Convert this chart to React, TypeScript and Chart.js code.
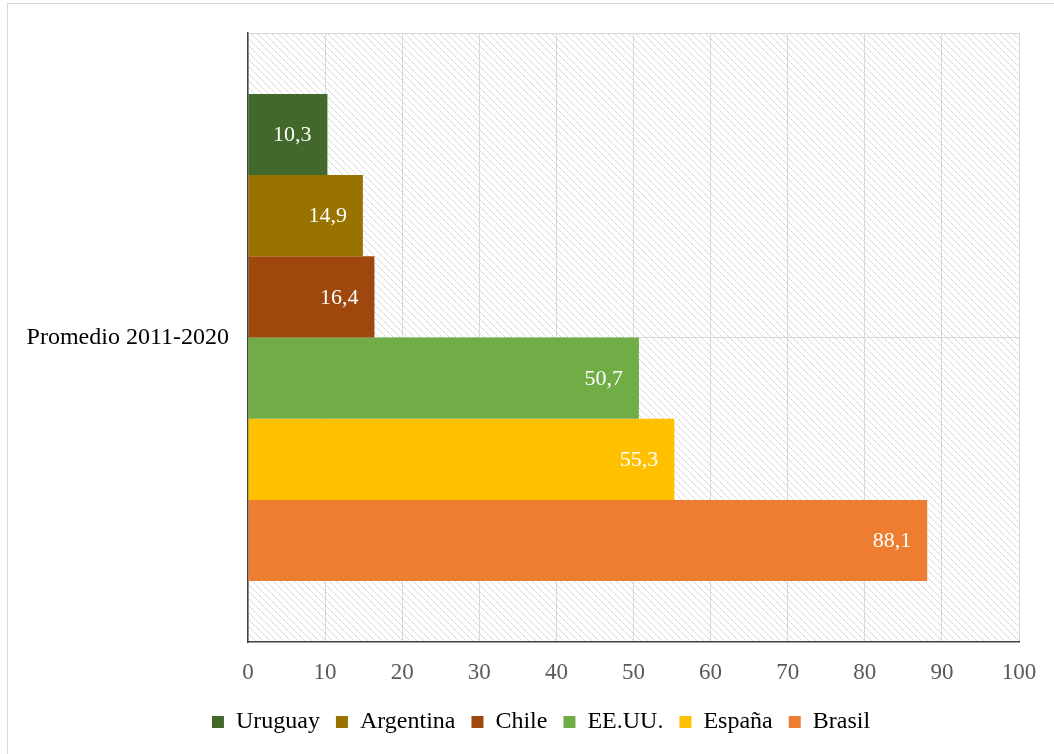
import React, { useEffect, useRef } from "react";
import { Chart, registerables } from "chart.js";

Chart.register(...registerables);

const categories = ["Promedio 2011-2020"];
const seriesNames = ["Uruguay", "Argentina", "Chile", "EE.UU.", "España", "Brasil"];
const seriesValues = [10.3, 14.9, 16.4, 50.7, 55.3, 88.1];
const seriesColors = ["#43682B", "#997300", "#9E480E", "#70AD47", "#FFC000", "#ED7D31"];
const xTicks = [0, 10, 20, 30, 40, 50, 60, 70, 80, 90, 100];

const FONT = "'Liberation Serif', 'Times New Roman', serif";

function makePattern(ctx: CanvasRenderingContext2D) {
  const tile = document.createElement("canvas");
  const n = 7;
  tile.width = n;
  tile.height = n;
  const t = tile.getContext("2d")!;
  t.fillStyle = "#ffffff";
  t.fillRect(0, 0, n, n);
  for (let i = 0; i < n; i++) {
    t.fillStyle = i % 2 === 0 ? "#d2d2d2" : "#e4e4e4";
    t.fillRect(i, i, 1, 1);
  }
  return ctx.createPattern(tile, "repeat");
}

const backgroundPlugin = {
  id: "hatchBg",
  beforeDraw(chart: any) {
    const { ctx, chartArea } = chart;
    if (!chartArea) return;
    ctx.save();
    const p = makePattern(ctx);
    if (p) {
      ctx.fillStyle = p;
      ctx.fillRect(chartArea.left, chartArea.top, chartArea.right - chartArea.left, chartArea.bottom - chartArea.top);
    }
    ctx.strokeStyle = "#d9d9d9";
    ctx.lineWidth = 1;
    ctx.beginPath();
    ctx.moveTo(chartArea.left, chartArea.top + 0.5);
    ctx.lineTo(chartArea.right, chartArea.top + 0.5);
    ctx.stroke();
    ctx.restore();
  },
};

const categoryLabelPlugin = {
  id: "catLabels",
  afterDraw(chart: any) {
    const { ctx, chartArea } = chart;
    const yScale = chart.scales.y;
    ctx.save();
    ctx.font = `24px ${FONT}`;
    ctx.fillStyle = "#000000";
    ctx.textAlign = "right";
    ctx.textBaseline = "middle";
    (chart.data.labels as string[]).forEach((lab, i) => {
      ctx.fillText(lab, chartArea.left - 19, yScale.getPixelForValue(i));
    });
    ctx.restore();
  },
};

const labelPlugin = {
  id: "barLabels",
  afterDatasetsDraw(chart: any) {
    const { ctx } = chart;
    ctx.save();
    ctx.font = `22px ${FONT}`;
    ctx.fillStyle = "#ffffff";
    ctx.textAlign = "right";
    ctx.textBaseline = "middle";
    chart.data.datasets.forEach((ds: any, i: number) => {
      const meta = chart.getDatasetMeta(i);
      meta.data.forEach((el: any, j: number) => {
        const v = ds.data[j] as number;
        ctx.fillText(v.toFixed(1).replace(".", ","), el.x - 16, el.y + 1);
      });
    });
    ctx.restore();
  },
};

export default function App() {
  const ref = useRef<HTMLCanvasElement | null>(null);

  useEffect(() => {
    if (!ref.current) return;
    const chart = new Chart(ref.current, {
      type: "bar",
      data: {
        labels: categories,
        datasets: seriesNames.map((name, i) => ({
          label: name,
          data: [seriesValues[i]],
          backgroundColor: seriesColors[i],
          borderWidth: 0,
          barPercentage: 1,
          categoryPercentage: 0.8,
        })),
      },
      options: {
        indexAxis: "y",
        responsive: false,
        animation: false,
        devicePixelRatio: 1,
        layout: { padding: { left: 63, right: 35, top: 33, bottom: 10 } },
        plugins: {
          legend: {
            position: "bottom",
            labels: {
              boxWidth: 12,
              boxHeight: 12,
              padding: 16,
              color: "#000000",
              font: { family: FONT, size: 24 },
            },
          },
          tooltip: { enabled: false },
        },
        scales: {
          x: {
            type: "linear",
            min: 0,
            max: 100,
            afterBuildTicks(scale: any) {
              scale.ticks = xTicks.map((v) => ({ value: v }));
            },
            afterFit(scale: any) {
              scale.height = 52;
            },
            grid: { color: "#d9d9d9", drawTicks: false, lineWidth: 1 },
            border: { color: "#404040", width: 1.5 },
            ticks: {
              color: "#595959",
              padding: 17,
              font: { family: FONT, size: 23 },
            },
          },
          y: {
            type: "category",
            afterFit(scale: any) {
              scale.width = 185;
            },
            grid: { color: "#d9d9d9", drawTicks: false, offset: false, lineWidth: 1 },
            border: { color: "#404040", width: 1.5 },
            ticks: { display: false },
          },
        },
      },
      plugins: [backgroundPlugin, labelPlugin, categoryLabelPlugin],
    } as any);
    return () => chart.destroy();
  }, []);

  return (
    <div
      style={{
        position: "fixed",
        left: 0,
        top: 0,
        width: 1054,
        height: 754,
        overflow: "hidden",
        background: "#ffffff",
      }}
    >
      <div
        style={{
          position: "absolute",
          left: 7,
          top: 3,
          width: 1100,
          height: 800,
          border: "1px solid #d9d9d9",
          boxSizing: "border-box",
        }}
      />
      <canvas
        ref={ref}
        width={1054}
        height={754}
        style={{ position: "absolute", left: 0, top: 0, width: 1054, height: 754 }}
      />
    </div>
  );
}
